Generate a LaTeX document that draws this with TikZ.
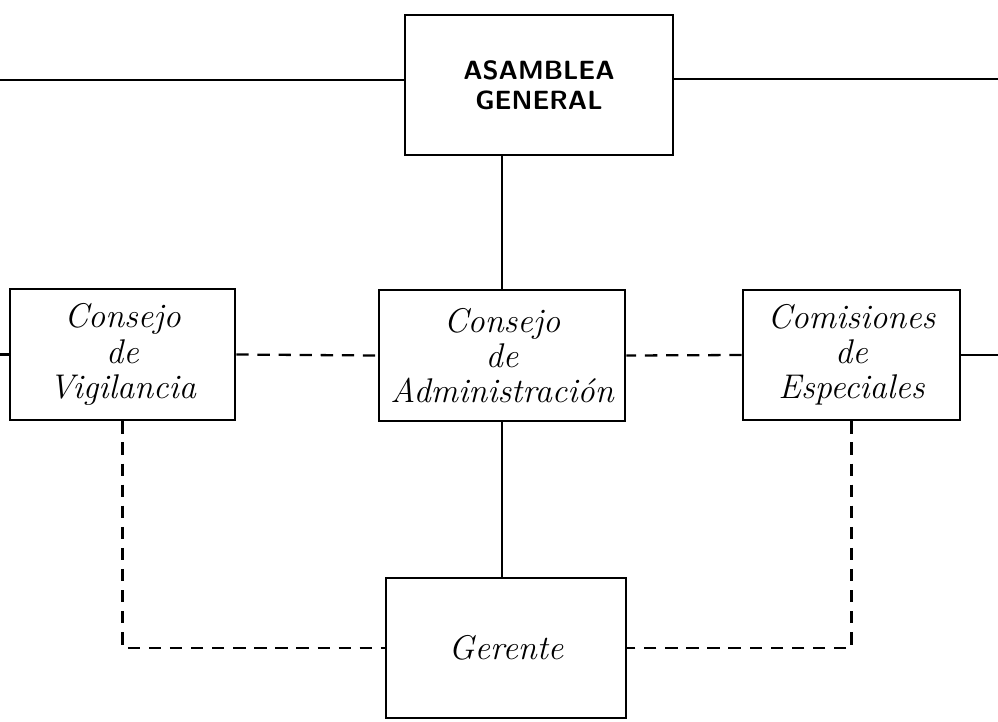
\documentclass[tikz,border=0pt]{standalone}
\begin{document}
\begin{tikzpicture}[x = 0.02cm, y = -0.02cm,
        caja/.style = {draw, line width = 1.6pt, align = center, inner sep = 0pt},
        texto/.style = {font = \fontsize{19.5}{20}\selectfont\itshape},
        linea/.style = {line width = 1.3pt},
        punteada/.style = {line width = 1.3pt, dash pattern = on 7pt off 5pt}]
        \useasboundingbox (0, 0) rectangle (998, 721);
        \coordinate (izq) at (0, 80);
        \coordinate (der) at (998, 79);
        \coordinate (borde) at (0, 0);
        \coordinate (bordeder) at (998, 0);
        \node [caja, minimum width = 5.36cm, minimum height = 2.8cm, font = \fontsize{15}{17}\selectfont\sffamily\bfseries] (asamblea) at (539, 85) {ASAMBLEA\\ GENERAL};
        \node [caja, texto, minimum width = 4.5cm, minimum height = 2.62cm] (vigilancia) at (122.5, 354.5) {Consejo\\ de\\ Vigilancia};
        \node [caja, texto, minimum width = 4.92cm, minimum height = 2.62cm] (admin) at (502, 355.5) {Consejo\\ de\\ Administración};
        \node [caja, texto, minimum width = 4.34cm, minimum height = 2.6cm] (comisiones) at (851.5, 355) {Comisiones\\ de\\ Especiales};
        \node [caja, texto, minimum width = 4.8cm, minimum height = 2.8cm] (gerente) at (506, 648) {Gerente};
        % lineas solidas
        \draw [linea] (izq) -- (izq -| asamblea.west);
        \draw [linea] (asamblea.east |- der) -- (der);
        \draw [linea] (asamblea.south -| admin.north) -- (admin.north);
        \draw [linea] (admin.south) -- (admin.south |- gerente.north);
        \draw [linea] (vigilancia.west) -- (vigilancia.west -| borde);
        \draw [linea] (comisiones.east) -- (comisiones.east -| bordeder);
        % lineas punteadas
        \draw [punteada] (vigilancia.east) -- (admin.west);
        \draw [punteada] (comisiones.west) -- (admin.east);
        \draw [punteada] (vigilancia.south) |- (gerente.west);
        \draw [punteada] (comisiones.south) |- (gerente.east);
    \end{tikzpicture}
\end{document}
